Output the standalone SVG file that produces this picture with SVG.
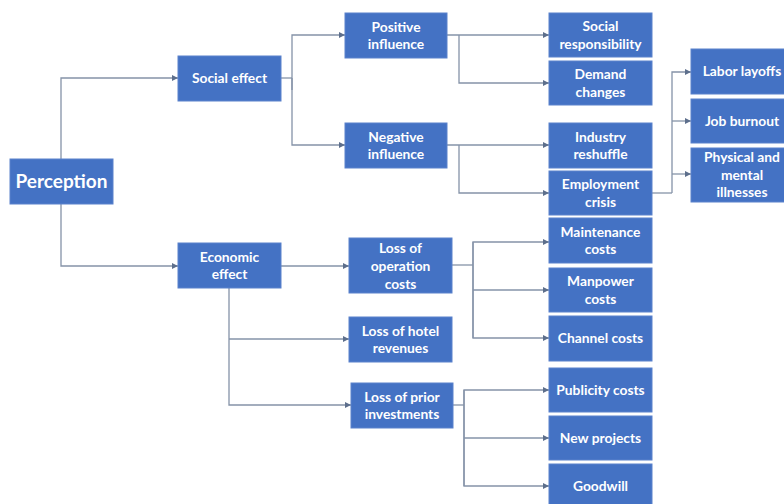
<svg xmlns="http://www.w3.org/2000/svg" width="784" height="504" viewBox="0 0 784 504">
  <style>
    .box { fill: #4472c4; stroke: #5b82cc; stroke-width: 1; }
    .lbl { fill: #ffffff; font-family: Lato, "Liberation Sans", sans-serif; font-weight: bold; font-size: 13.8px; text-anchor: middle; }
    .big { font-size: 19px; }
    .link { fill: none; stroke: #8593a8; stroke-width: 1.3; }
    .arr { marker-end: url(#tip); }
  </style>
  <defs>
    <marker id="tip" viewBox="0 0 8 8" refX="8" refY="4" markerWidth="6" markerHeight="6" markerUnits="userSpaceOnUse" orient="auto">
      <path d="M0,0 L8,4 L0,8 z" fill="#5d6f8c"/>
    </marker>
  </defs>
  <rect width="784" height="504" fill="#ffffff"/>

  <!-- connectors -->
  <g id="connectors">
    <path class="link arr" d="M61,159 V78 H178"/>
    <path class="link arr" d="M61,204 V266 H178"/>

    <path class="link" d="M281,78 H292"/>
    <path class="link arr" d="M292,90 V35 H345"/>
    <path class="link arr" d="M292,78 V145 H345"/>

    <path class="link arr" d="M447,35 H549"/>
    <path class="link arr" d="M459,35 V83 H549"/>
    <path class="link arr" d="M447,145 H549"/>
    <path class="link arr" d="M459,145 V193 H549"/>

    <path class="link" d="M652,193 H672"/>
    <path class="link arr" d="M672,193 V72 H691"/>
    <path class="link arr" d="M672,121 H691"/>
    <path class="link arr" d="M672,174 H691"/>

    <path class="link arr" d="M281,266 H349"/>
    <path class="link arr" d="M229,288 V405 H351"/>
    <path class="link arr" d="M229,339 H349"/>

    <path class="link" d="M452,265 H473"/>
    <path class="link arr" d="M473,338 V242 H549"/>
    <path class="link arr" d="M473,290 H549"/>
    <path class="link arr" d="M473,242 V338 H549"/>

    <path class="link" d="M453,405 H464"/>
    <path class="link arr" d="M464,486 V390 H549"/>
    <path class="link arr" d="M464,438 H549"/>
    <path class="link arr" d="M464,390 V486 H549"/>
  </g>

  <!-- level 0 -->
  <g id="perception">
    <rect class="box" x="10" y="159" width="103" height="45"/>
    <text class="lbl big" x="61.5" y="188">Perception</text>
  </g>

  <!-- level 1 -->
  <g id="social-effect">
    <rect class="box" x="178" y="56" width="103" height="45"/>
    <text class="lbl" x="229.5" y="83">Social effect</text>
  </g>
  <g id="economic-effect">
    <rect class="box" x="178" y="243" width="103" height="45"/>
    <text class="lbl" x="229.5" y="261.5">Economic</text>
    <text class="lbl" x="229.5" y="279">effect</text>
  </g>

  <!-- level 2 -->
  <g id="positive-influence">
    <rect class="box" x="345" y="13" width="102" height="45"/>
    <text class="lbl" x="396" y="31.5">Positive</text>
    <text class="lbl" x="396" y="49">influence</text>
  </g>
  <g id="negative-influence">
    <rect class="box" x="345" y="123" width="102" height="45"/>
    <text class="lbl" x="396" y="141.5">Negative</text>
    <text class="lbl" x="396" y="159">influence</text>
  </g>
  <g id="loss-operation">
    <rect class="box" x="349" y="238" width="103" height="55"/>
    <text class="lbl" x="400.5" y="252.5">Loss of</text>
    <text class="lbl" x="400.5" y="270.5">operation</text>
    <text class="lbl" x="400.5" y="288.5">costs</text>
  </g>
  <g id="loss-hotel">
    <rect class="box" x="349" y="317" width="103" height="45"/>
    <text class="lbl" x="400.5" y="335.5">Loss of hotel</text>
    <text class="lbl" x="400.5" y="353">revenues</text>
  </g>
  <g id="loss-prior">
    <rect class="box" x="351" y="383" width="102" height="45"/>
    <text class="lbl" x="402" y="401.5">Loss of prior</text>
    <text class="lbl" x="402" y="419">investments</text>
  </g>

  <!-- level 3 -->
  <g id="social-responsibility">
    <rect class="box" x="549" y="13" width="103" height="44"/>
    <text class="lbl" x="600.5" y="31">Social</text>
    <text class="lbl" x="600.5" y="48.5">responsibility</text>
  </g>
  <g id="demand-changes">
    <rect class="box" x="549" y="61" width="103" height="44"/>
    <text class="lbl" x="600.5" y="79">Demand</text>
    <text class="lbl" x="600.5" y="96.5">changes</text>
  </g>
  <g id="industry-reshuffle">
    <rect class="box" x="549" y="123" width="103" height="45"/>
    <text class="lbl" x="600.5" y="141.5">Industry</text>
    <text class="lbl" x="600.5" y="159">reshuffle</text>
  </g>
  <g id="employment-crisis">
    <rect class="box" x="549" y="171" width="103" height="44"/>
    <text class="lbl" x="600.5" y="189">Employment</text>
    <text class="lbl" x="600.5" y="206.5">crisis</text>
  </g>
  <g id="maintenance-costs">
    <rect class="box" x="549" y="218" width="103" height="45"/>
    <text class="lbl" x="600.5" y="236.5">Maintenance</text>
    <text class="lbl" x="600.5" y="254">costs</text>
  </g>
  <g id="manpower-costs">
    <rect class="box" x="549" y="268" width="103" height="44"/>
    <text class="lbl" x="600.5" y="286">Manpower</text>
    <text class="lbl" x="600.5" y="303.5">costs</text>
  </g>
  <g id="channel-costs">
    <rect class="box" x="549" y="316" width="103" height="45"/>
    <text class="lbl" x="600.5" y="343">Channel costs</text>
  </g>
  <g id="publicity-costs">
    <rect class="box" x="549" y="368" width="103" height="44"/>
    <text class="lbl" x="600.5" y="394.5">Publicity costs</text>
  </g>
  <g id="new-projects">
    <rect class="box" x="549" y="416" width="103" height="44"/>
    <text class="lbl" x="600.5" y="442.5">New projects</text>
  </g>
  <g id="goodwill">
    <rect class="box" x="549" y="464" width="103" height="44"/>
    <text class="lbl" x="600.5" y="490.5">Goodwill</text>
  </g>

  <!-- level 4 -->
  <g id="labor-layoffs">
    <rect class="box" x="691" y="49" width="102" height="45"/>
    <text class="lbl" x="742" y="76">Labor layoffs</text>
  </g>
  <g id="job-burnout">
    <rect class="box" x="691" y="99" width="102" height="44"/>
    <text class="lbl" x="742" y="125.5">Job burnout</text>
  </g>
  <g id="physical-mental">
    <rect class="box" x="691" y="148" width="102" height="54"/>
    <text class="lbl" x="742" y="162">Physical and</text>
    <text class="lbl" x="742" y="179.5">mental</text>
    <text class="lbl" x="742" y="197">illnesses</text>
  </g>
</svg>
